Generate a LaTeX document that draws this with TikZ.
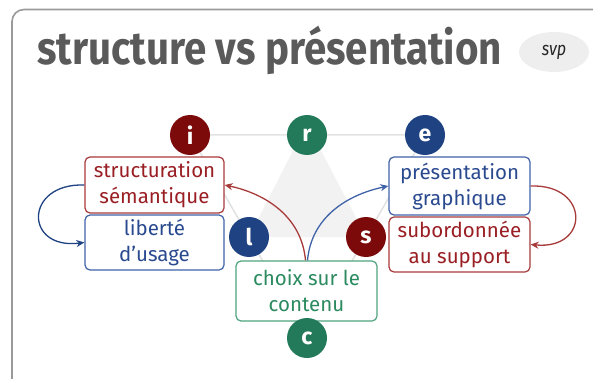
\documentclass[tikz,border=0pt]{standalone}
\usepackage{fontspec}
\setmainfont{Fira Sans}
\usetikzlibrary{arrows.meta,shapes.geometric}
\definecolor{cred}{HTML}{7D0A0A}
\definecolor{tred}{HTML}{9A1F24}
\definecolor{bred}{HTML}{A83A3A}
\definecolor{cblue}{HTML}{1F4282}
\definecolor{tblue}{HTML}{2A4A90}
\definecolor{bblue}{HTML}{3F62A8}
\definecolor{cgreen}{HTML}{237A5A}
\definecolor{tgreen}{HTML}{2B8A5F}
\definecolor{bgreen}{HTML}{4FA57F}
\definecolor{framec}{HTML}{9A9A9A}
\definecolor{titlec}{HTML}{5A5A5A}
\definecolor{hexc}{HTML}{E2E2E2}
\definecolor{tric}{HTML}{F2F2F2}
\definecolor{badgec}{HTML}{EEEEEE}
\tikzset{
  dot/.style={circle, minimum size=40pt, inner sep=0pt, text=white,
    font=\fontsize{23}{24}\selectfont\bfseries},
  card/.style={draw, fill=white, rounded corners=5pt, line width=1.2pt,
    align=center, inner sep=0pt,
    font=\fontsize{20.5}{26}\selectfont},
  redbox/.style={card, draw=bred, text=tred},
  bluebox/.style={card, draw=bblue, text=tblue},
  greenbox/.style={card, draw=bgreen, text=tgreen},
  hexline/.style={draw=hexc, line width=1.5pt},
  arr/.style={line width=1.3pt, -{Stealth[length=8pt,width=7pt,inset=2.5pt]}},
}
\begin{document}
\begin{tikzpicture}[x=1pt,y=-1pt]
\useasboundingbox (0,0) rectangle (593,379);
\clip (0,0) rectangle (593,379);
\fill[white] (0,0) rectangle (593,379);
\draw[framec, line width=1.6pt, rounded corners=12pt] (12,9.5) rectangle (606,392);
% title
\node[anchor=base west, inner sep=0pt, text=titlec,
  font=\fontsize{46}{50}\selectfont\bfseries] (title) at (37,65)
  {\scalebox{0.875}[1]{structure vs présentation}};
\node[ellipse, fill=badgec, minimum width=70pt, minimum height=40pt, inner sep=0pt,
  text=black!85, font=\fontsize{19}{20}\selectfont\itshape] (badge) at (554,52)
  {\scalebox{0.85}[1]{svp}};
% coordinates of the hexagon
\coordinate (pi) at (190,135);
\coordinate (pr) at (307,135);
\coordinate (pe) at (425,135);
\coordinate (ps) at (366,237);
\coordinate (pc) at (307,338);
\coordinate (pl) at (249,237);
% background
\fill[tric] ([xshift=-6pt]pr) -- ([xshift=6pt]pr) -- (ps) -- (pl) -- cycle;
\path[hexline] (pi) -- (pr) -- (pe) -- (ps) -- (pc) -- (pl) -- cycle;
% boxes
\node[redbox, minimum width=139pt, minimum height=56pt] (struct) at (154.5,185)
  {structuration\\sémantique};
\node[bluebox, minimum width=139pt, minimum height=55pt] (lib) at (154.5,242.5)
  {liberté\\d’usage};
\node[bluebox, minimum width=141pt, minimum height=58pt] (pres) at (459.5,186)
  {présentation\\graphique};
\node[redbox, minimum width=141pt, minimum height=55pt] (sub) at (459.5,244.5)
  {subordonnée\\au support};
\node[greenbox, minimum width=141pt, minimum height=60pt] (choix) at (306.5,291)
  {choix sur le\\contenu};
% circles
\node[dot, fill=cred] (i) at (pi) {i};
\node[dot, fill=cgreen] (r) at (pr) {r};
\node[dot, fill=cblue] (e) at (pe) {e};
\node[dot, fill=cred] (s) at (ps) {s};
\node[dot, fill=cgreen] (c) at (pc) {c};
\node[dot, fill=cblue] (l) at (pl) {l};
% arrows
\draw[arr, draw=cblue] (struct.west) .. controls (24,183) and (24,250) .. (lib.west);
\draw[arr, draw=bred] (pres.east) .. controls (590,184) and (590,250) .. (sub.east);
\draw[arr, draw=bred] ([xshift=-1pt]choix.north) to[out=95, in=-12] (struct.east);
\draw[arr, draw=bblue] ([xshift=1pt]choix.north) to[out=85, in=192] (pres.west);
\end{tikzpicture}
\end{document}
